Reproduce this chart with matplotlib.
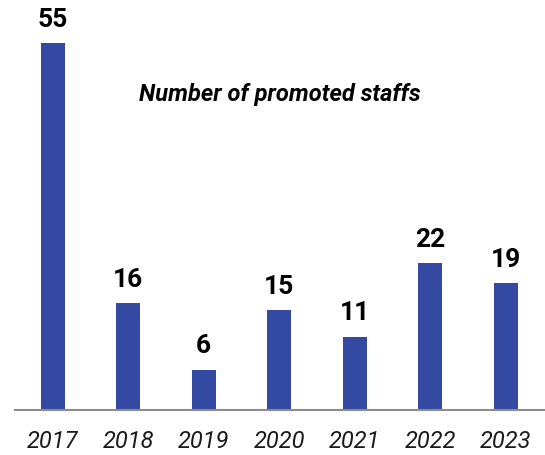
import matplotlib
matplotlib.use("Agg")
import matplotlib.pyplot as plt

# --- data ---
years = ["2017", "2018", "2019", "2020", "2021", "2022", "2023"]
promoted = [55, 16, 6, 15, 11, 22, 19]

bar_color = "#344AA2"

fig = plt.figure(figsize=(5.45, 4.56), dpi=100)
ax = fig.add_axes([15 / 545, 45 / 456, 530 / 545, 400 / 456])

x = list(range(len(years)))
bars = ax.bar(x, promoted, width=0.32, color=bar_color, zorder=2)

# value labels above bars
for xi, v in zip(x, promoted):
    ax.annotate(str(v), (xi, v), xytext=(0, 9), textcoords="offset points",
                ha="center", va="bottom", fontsize=19, fontweight="bold",
                family=["Roboto", "DejaVu Sans"], color="black")

ax.set_xlim(-0.5, 6.52)
ax.set_ylim(0, 60)
ax.set_xticks(x)
ax.set_xticklabels(years, fontsize=17, fontstyle="italic",
                   family=["Roboto", "DejaVu Sans"], color="#1a1a1a")
ax.tick_params(axis="x", length=0, pad=14)
ax.set_yticks([])

for side in ["top", "right", "left"]:
    ax.spines[side].set_visible(False)
ax.spines["bottom"].set_color("#8c8c8c")
ax.spines["bottom"].set_linewidth(1.5)

fig.text(280 / 545, 1 - 95 / 456, "Number of promoted staffs", ha="center", va="center",
         fontsize=17, fontweight="bold", fontstyle="italic",
         family=["Roboto", "DejaVu Sans"])

fig.savefig("out.png", dpi=100)
